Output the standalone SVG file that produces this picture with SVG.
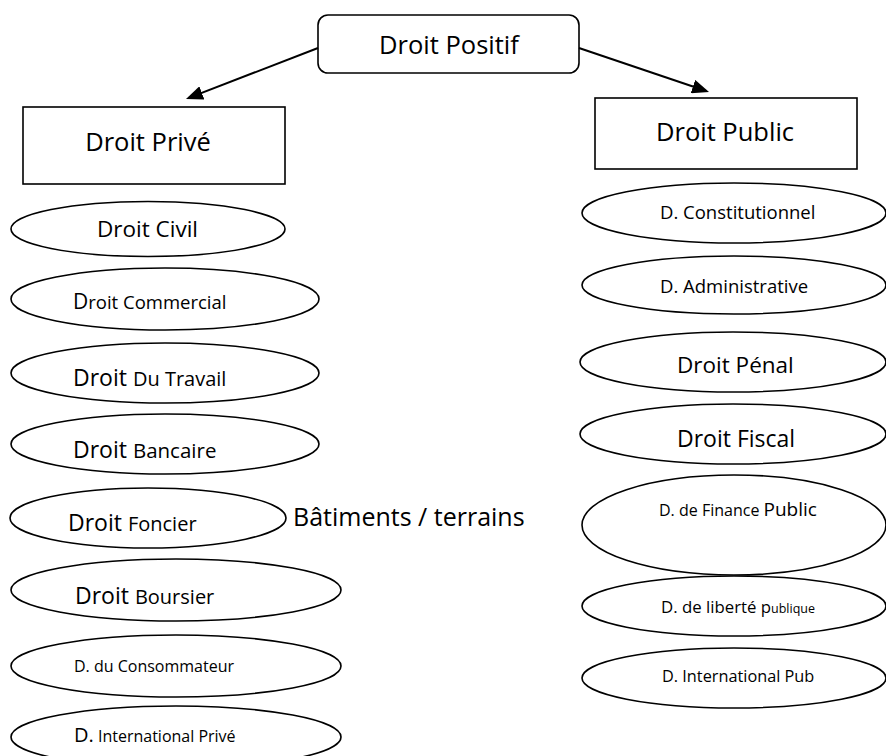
<svg xmlns="http://www.w3.org/2000/svg" width="886" height="756" viewBox="0 0 886 756">
<defs>
<style>
.b{fill:#fff;stroke:#000;stroke-width:1.6}
.e{fill:#fff;stroke:#000;stroke-width:1.6}
text{font-family:"Open Sans","Noto Sans","Liberation Sans",sans-serif;fill:#000}
.c{stroke:#000;stroke-width:2;fill:none}
</style>
<marker id="ah" markerWidth="17" markerHeight="14" refX="14" refY="7" orient="auto" markerUnits="userSpaceOnUse" viewBox="0 0 17 14">
<path d="M0,0 L17,7 L0,14 z" fill="#000"/>
</marker>
</defs>
<rect width="886" height="756" fill="#fff"/>
<g id="droit-positif"><rect class="b" x="318" y="15" width="261" height="58" rx="10"/><text x="449" y="54" font-size="25.5" text-anchor="middle">Droit Positif</text></g>
<g id="droit-prive"><rect class="b" x="23" y="107" width="262" height="77"/><text x="148" y="151" font-size="25.5" text-anchor="middle">Droit Privé</text></g>
<g id="droit-public"><rect class="b" x="595" y="98" width="262" height="71"/><text x="725" y="141" font-size="25.5" text-anchor="middle">Droit Public</text></g>
<g id="connectors">
<line class="c" x1="318" y1="48" x2="188.8" y2="97.9" marker-end="url(#ah)"/>
<line class="c" x1="579" y1="48" x2="706.2" y2="91" marker-end="url(#ah)"/>
</g>
<g id="droit-civil"><ellipse class="e" cx="148" cy="229" rx="137" ry="27.5"/><text x="97" y="237" font-size="22.5">Droit Civil</text></g>
<g id="droit-commercial"><ellipse class="e" cx="165" cy="299" rx="154" ry="31"/><text x="73" y="309"><tspan font-size="21">D</tspan><tspan font-size="18.5">roit Commercial</tspan></text></g>
<g id="droit-travail"><ellipse class="e" cx="165" cy="373" rx="154" ry="30"/><text x="73" y="386"><tspan font-size="23">Droit </tspan><tspan font-size="20">Du Travail</tspan></text></g>
<g id="droit-bancaire"><ellipse class="e" cx="165" cy="444" rx="154" ry="30"/><text x="73" y="458"><tspan font-size="23">Droit </tspan><tspan font-size="20.5">Bancaire</tspan></text></g>
<g id="droit-foncier"><ellipse class="e" cx="148" cy="518" rx="138" ry="30"/><text x="68" y="531"><tspan font-size="23">Droit </tspan><tspan font-size="20">Foncier</tspan></text></g>
<text x="293" y="526" font-size="25">Bâtiments / terrains</text>
<g id="droit-boursier"><ellipse class="e" cx="176" cy="590" rx="165" ry="31"/><text x="75" y="604"><tspan font-size="23">Droit </tspan><tspan font-size="20">Boursier</tspan></text></g>
<g id="droit-consommateur"><ellipse class="e" cx="176" cy="666" rx="165" ry="31"/><text x="74" y="672" font-size="16">D. du Consommateur</text></g>
<g id="droit-international-prive"><ellipse class="e" cx="176" cy="737" rx="165" ry="31"/><text x="74" y="742"><tspan font-size="20">D.</tspan><tspan font-size="16"> International Privé</tspan></text></g>
<g id="droit-constitutionnel"><ellipse class="e" cx="734" cy="213" rx="152" ry="30"/><text x="660" y="219" font-size="18.5">D. Constitutionnel</text></g>
<g id="droit-administratif"><ellipse class="e" cx="734" cy="285" rx="152" ry="29"/><text x="660" y="293" font-size="18.5">D. Administrative</text></g>
<g id="droit-penal"><ellipse class="e" cx="733" cy="362" rx="153" ry="30"/><text x="677" y="373" font-size="22.5">Droit Pénal</text></g>
<g id="droit-fiscal"><ellipse class="e" cx="733" cy="434" rx="153" ry="30"/><text x="677" y="447" font-size="23">Droit Fiscal</text></g>
<g id="droit-finance-public"><ellipse class="e" cx="734" cy="525" rx="152" ry="50"/><text x="659" y="516"><tspan font-size="16">D. de Finance </tspan><tspan font-size="19">Public</tspan></text></g>
<g id="droit-liberte-publique"><ellipse class="e" cx="734" cy="606" rx="152" ry="30"/><text x="661" y="613"><tspan font-size="16.8">D. de liberté p</tspan><tspan font-size="12.5">ublique</tspan></text></g>
<g id="droit-international-public"><ellipse class="e" cx="734" cy="678" rx="152" ry="30"/><text x="662" y="682" font-size="16.3">D. International Pub</text></g>
</svg>
